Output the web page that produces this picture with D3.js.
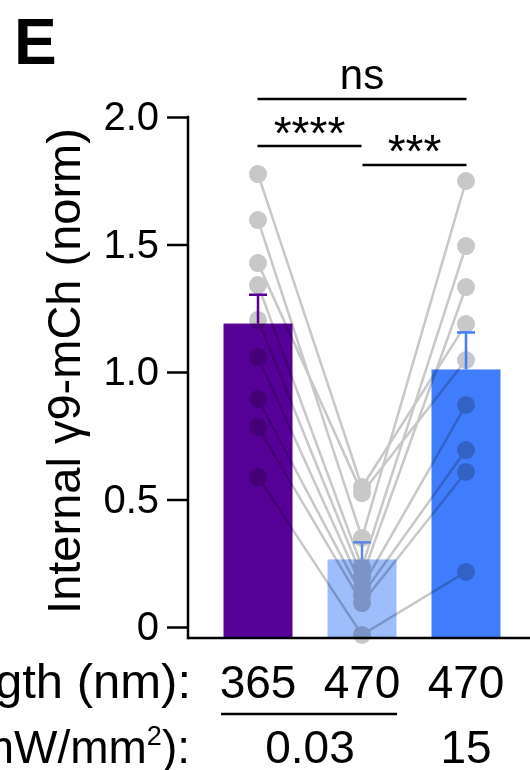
<!DOCTYPE html>
<html>
<head>
<meta charset="utf-8">
<script src="https://cdn.jsdelivr.net/npm/d3@7"></script>
<style>
  body { margin: 0; background: #fff; }
  svg { display: block; font-family: "Liberation Sans", Arial, sans-serif; }
</style>
</head>
<body>
<div id="chart"></div>
<script>
// groups along the x axis
var groupKeys = ["365-low", "470-low", "470-high"];
var wavelengths = ["365", "470", "470"];
var intensities = ["0.03", "15"];
var barColors = ["#550096", "#9dbdfb", "#3f7dfd"];
var errColors = ["#550096", "#5d86e6", "#3f7dfd"];

// bar means and SEM
var means = [1.19, 0.265, 1.01];
var sems = [0.113, 0.067, 0.145];

// paired cells, same order in each array
var v365low = [1.776, 1.596, 1.427, 1.341, 1.204, 1.059, 0.894, 0.784, 0.588];
var v470low = [0.549, 0.349, 0.525, 0.235, 0.196, 0.157, 0.125, 0.094, -0.031];
var v470high = [1.188, 1.749, 1.047, 1.494, 1.333, 0.871, 0.694, 0.608, 0.216];

var yTicks = [0, 0.5, 1.0, 1.5, 2.0];

// stats brackets: from group, to group, label
var brackets = [
  {from: 0, to: 2, label: "ns", level: 0},
  {from: 0, to: 1, label: "****", level: 1},
  {from: 1, to: 2, label: "***", level: 2}
];

var width = 530, height = 770;
var axisX = 188, axisY = 638;

var svg = d3.select("#chart").append("svg")
  .attr("width", width)
  .attr("height", height);

var x = d3.scalePoint().domain(groupKeys).range([206, 518]).padding(0.5);
var y = d3.scaleLinear().domain([0, 2]).range([627, 117]);
var barW = 69;

// panel letter
svg.append("text")
  .attr("x", 14).attr("y", 64)
  .attr("font-size", 64).attr("font-weight", "bold")
  .text("E");

// bars
svg.append("g").selectAll("rect")
  .data(means)
  .enter().append("rect")
  .attr("x", (d, i) => x(groupKeys[i]) - barW / 2)
  .attr("y", d => y(d))
  .attr("width", barW)
  .attr("height", d => axisY - y(d))
  .attr("fill", (d, i) => barColors[i]);

// paired lines + dots, multiplied over the bars
var pairs = v365low.map((d, i) => [d, v470low[i], v470high[i]]);
var pts = svg.append("g").style("mix-blend-mode", "multiply");
var line = d3.line().x((d, i) => x(groupKeys[i])).y(d => y(d));
pts.selectAll("path")
  .data(pairs)
  .enter().append("path")
  .attr("d", line)
  .attr("fill", "none")
  .attr("stroke", "#c8c8c8")
  .attr("stroke-width", 2.5);
pairs.forEach(function(p) {
  pts.selectAll(null)
    .data(p)
    .enter().append("circle")
    .attr("cx", (d, i) => x(groupKeys[i]))
    .attr("cy", d => y(d))
    .attr("r", 9)
    .attr("fill", "#c8c8c8");
});

// error bars (upper only)
var err = svg.append("g");
means.forEach(function(m, i) {
  var cx = x(groupKeys[i]);
  err.append("line")
    .attr("x1", cx).attr("x2", cx)
    .attr("y1", y(m)).attr("y2", y(m + sems[i]))
    .attr("stroke", errColors[i]).attr("stroke-width", 2.5);
  err.append("line")
    .attr("x1", cx - 9).attr("x2", cx + 9)
    .attr("y1", y(m + sems[i])).attr("y2", y(m + sems[i]))
    .attr("stroke", errColors[i]).attr("stroke-width", 2.5);
});

// y axis
var yAxis = d3.axisLeft(y)
  .tickValues(yTicks)
  .tickSize(21)
  .tickPadding(8)
  .tickFormat(d => d === 0 ? "0" : d3.format(".1f")(d));
var gy = svg.append("g")
  .attr("transform", "translate(" + axisX + ",0)")
  .call(yAxis);
gy.select(".domain").remove();
gy.selectAll(".tick line").attr("stroke", "#000").attr("stroke-width", 2.5);
gy.selectAll(".tick text")
  .attr("font-size", 40)
  .attr("font-family", "Liberation Sans, Arial, sans-serif")
  .attr("fill", "#000");

svg.append("line")
  .attr("x1", axisX).attr("x2", axisX)
  .attr("y1", y(2) - 1.25).attr("y2", axisY + 1.25)
  .attr("stroke", "#000").attr("stroke-width", 2.5);
svg.append("line")
  .attr("x1", axisX).attr("x2", width)
  .attr("y1", axisY).attr("y2", axisY)
  .attr("stroke", "#000").attr("stroke-width", 2.5);

// y label
svg.append("text")
  .attr("transform", "translate(80," + 371 + ") rotate(-90)")
  .attr("text-anchor", "middle")
  .attr("font-size", 47)
  .text("Internal \u03B39-mCh (norm)");

// brackets
var bracketY = [99, 146, 165];
var bracketTextY = [89, 149, 167];
var bracketFont = [42, 46, 46];
brackets.forEach(function(b) {
  var x1 = x(groupKeys[b.from]), x2 = x(groupKeys[b.to]);
  if (b.level === 1) x2 -= 1;
  if (b.level === 2) x1 += 1;
  svg.append("line")
    .attr("x1", x1 - 0.5).attr("x2", x2 + 0.5)
    .attr("y1", bracketY[b.level]).attr("y2", bracketY[b.level])
    .attr("stroke", "#000").attr("stroke-width", 2.5);
  svg.append("text")
    .attr("x", (x1 + x2) / 2)
    .attr("y", bracketTextY[b.level])
    .attr("text-anchor", "middle")
    .attr("font-size", bracketFont[b.level])
    .text(b.label);
});

// x labels, two rows
var row1 = 698, row2 = 763;
svg.append("text")
  .attr("x", 191).attr("y", row1)
  .attr("text-anchor", "end").attr("font-size", 49)
  .text("Wavelength (nm):");
svg.selectAll(".wl")
  .data(wavelengths)
  .enter().append("text")
  .attr("class", "wl")
  .attr("x", (d, i) => x(groupKeys[i]))
  .attr("y", row1)
  .attr("text-anchor", "middle").attr("font-size", 46)
  .text(d => d);

svg.append("line")
  .attr("x1", x(groupKeys[0]) - 37).attr("x2", x(groupKeys[1]) + 35)
  .attr("y1", 714).attr("y2", 714)
  .attr("stroke", "#000").attr("stroke-width", 2.5);

var irr = svg.append("text")
  .attr("x", 190).attr("y", row2)
  .attr("text-anchor", "end").attr("font-size", 46);
irr.append("tspan").text("Irradiance (mW/mm");
irr.append("tspan").attr("font-size", 27).attr("dy", -18).text("2");
irr.append("tspan").attr("dy", 18).text("):");

svg.append("text")
  .attr("x", (x(groupKeys[0]) + x(groupKeys[1])) / 2)
  .attr("y", row2)
  .attr("text-anchor", "middle").attr("font-size", 46)
  .text(intensities[0]);
svg.append("text")
  .attr("x", x(groupKeys[2]))
  .attr("y", row2)
  .attr("text-anchor", "middle").attr("font-size", 46)
  .text(intensities[1]);
</script>
</body>
</html>
